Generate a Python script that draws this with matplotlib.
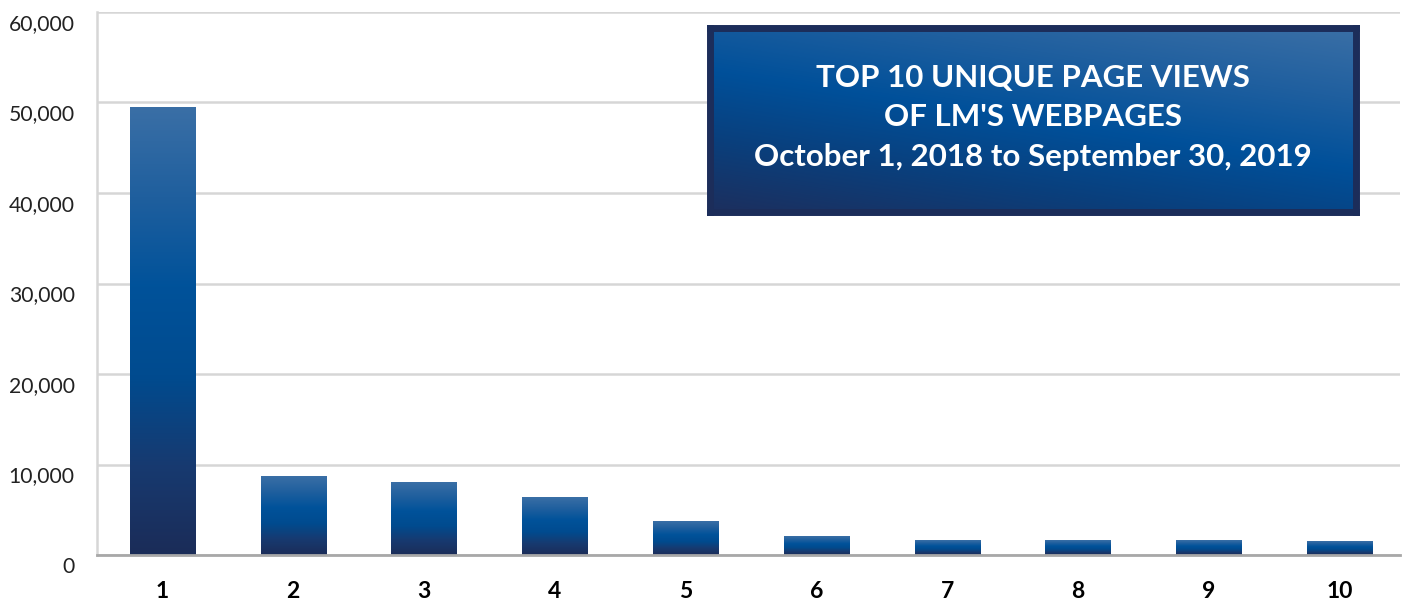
import matplotlib
matplotlib.use("Agg")
import matplotlib.pyplot as plt
import matplotlib.transforms as mtransforms
import numpy as np
from matplotlib.colors import LinearSegmentedColormap
from matplotlib.ticker import FuncFormatter

# data
ranks = ["1", "2", "3", "4", "5", "6", "7", "8", "9", "10"]
views = [49500, 8700, 8000, 6350, 3700, 2000, 1650, 1650, 1620, 1480]
y_ticks = [0, 10000, 20000, 30000, 40000, 50000, 60000]
title_lines = ["TOP 10 UNIQUE PAGE VIEWS", "OF LM'S WEBPAGES",
               "October 1, 2018 to September 30, 2019"]

plt.rcParams['font.family'] = ['Lato', 'DejaVu Sans']

bar_cmap = LinearSegmentedColormap.from_list(
    "bars", ["#1b2c58", "#173a70", "#004b8f", "#00529a", "#1f5f9e", "#3a6fa6"])
box_cmap = LinearSegmentedColormap.from_list(
    "box", ["#1c2f5e", "#0a3f7c", "#00509a", "#1f5f9f", "#3a6fa6"])

fig = plt.figure(figsize=(14.13, 6.03), dpi=100)
ax = fig.add_axes([97 / 1413, 1 - 555 / 603, 1303 / 1413, 543 / 603])

x = np.arange(1, len(ranks) + 1)
width = 0.5

# vertical gradient image clipped to each bar
grad = np.linspace(0, 1, 256).reshape(-1, 1)
for xi, v in zip(x, views):
    ax.imshow(grad, extent=(xi - width / 2, xi + width / 2, 0, v), origin="lower",
              cmap=bar_cmap, aspect="auto", zorder=3, interpolation="bicubic")
ax.set_xlim(0.5, 10.46)
ax.set_ylim(0, 60000)

ax.set_yticks(y_ticks)
ax.yaxis.set_major_formatter(FuncFormatter(lambda v, p: f"{int(v):,}"))
ax.set_xticks(x)
ax.set_xticklabels(ranks, fontsize=16.5, fontweight="bold", color="black")
ax.tick_params(axis="y", length=0, labelsize=15.2, pad=16, labelcolor="#222222")
ax.tick_params(axis="x", length=0, pad=19)
# y labels sit a little below their gridlines
shift = mtransforms.ScaledTranslation(0, -0.10, fig.dpi_scale_trans)
for lab in ax.get_yticklabels():
    lab.set_transform(lab.get_transform() + shift)

ax.grid(axis="y", color="#d6d6d6", linewidth=1.8, zorder=0)
for s in ["top", "right"]:
    ax.spines[s].set_visible(False)
ax.spines["left"].set_color("#d6d6d6")
ax.spines["left"].set_linewidth(1.8)
ax.spines["bottom"].set_color("#a8a8a8")
ax.spines["bottom"].set_linewidth(2)
ax.spines["bottom"].set_zorder(4)

# title box
bx = fig.add_axes([710 / 1413, 1 - 212 / 603, 646 / 1413, 184 / 603])
gx, gy = np.meshgrid(np.linspace(0, 1, 200), np.linspace(0, 1, 100))
bx.imshow(0.35 * gx + 0.65 * gy, cmap=box_cmap, extent=(0, 1, 0, 1),
          origin="lower", aspect="auto", interpolation="bicubic")
bx.set_xticks([])
bx.set_yticks([])
for s in bx.spines.values():
    s.set_color("#1c2d5a")
    s.set_linewidth(5)
for i, line in enumerate(title_lines):
    bx.text(0.5, 0.73 - i * 0.215, line, ha="center", va="center", color="white",
            fontsize=22.5, fontweight="bold", transform=bx.transAxes)

fig.savefig("out.png", dpi=100)
